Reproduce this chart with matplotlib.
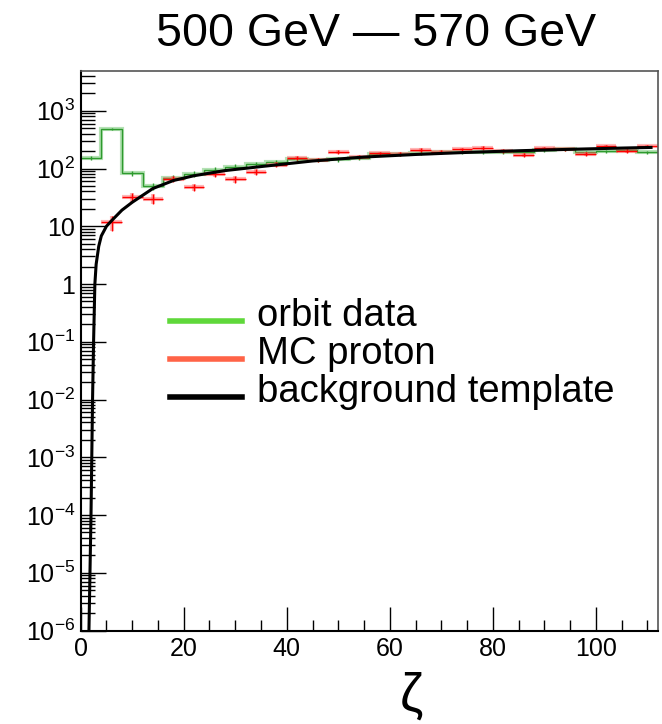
import numpy as np
import matplotlib
matplotlib.use("Agg")
import matplotlib.pyplot as plt
from matplotlib.lines import Line2D
from matplotlib.ticker import LogLocator, FuncFormatter, MultipleLocator

plt.rcParams['font.family'] = ['Liberation Sans', 'DejaVu Sans']

# bins of 4 in zeta, 0 .. 112
bin_edges = np.arange(0, 113, 4)
bin_centers = bin_edges[:-1] + 2

# orbit data (green histogram)
orbit_counts = [150, 482, 83, 49, 68, 80, 95, 107, 121, 131, 148, 140, 144, 150,
                180, 178, 187, 194, 190, 190, 190, 190, 208, 214, 190, 199, 208, 190]
# MC proton (red crosses), first bin empty
mc_counts = [np.nan, 11.8, 31.6, 30, 66, 47, 79, 65, 88, 117, 150, 141, 192, 160,
             182, 178, 208, 192, 214, 228, 203, 169, 223, 214, 178, 244, 203, 244]
# background template (black curve)
tmpl_x = [1.6, 1.8, 2.0, 2.15, 2.3, 2.5, 2.75, 3.0, 3.5, 4.0, 5.0, 6.0, 8.0, 10,
          14, 18, 22, 28, 35, 45, 55, 65, 75, 85, 95, 105, 111]
tmpl_y = [1e-6, 1e-5, 1e-4, 1e-3, 1e-2, 0.1, 1, 2.2, 4.5, 6.8, 10, 12.5, 19, 26,
          45, 62, 75, 92, 108, 135, 158, 175, 190, 203, 215, 226, 232]

title = "500 GeV \u2014 570 GeV"
legend_labels = ["orbit data", "MC proton", "background template"]
legend_colors = ['#5fd83a', '#ff6347', 'black']

W, H = 662, 724
fig = plt.figure(figsize=(W / 100, H / 100), dpi=100)
ax = fig.add_axes([80.7 / W, 1 - 630.5 / H, 577 / W, 559.5 / H])

orbit = np.array(orbit_counts, dtype=float)
mc = np.array(mc_counts, dtype=float)

# green histogram: soft wide layer + thin line
ax.stairs(orbit, bin_edges, color='#5cc05c', lw=3, alpha=0.45, baseline=None)
ax.stairs(orbit, bin_edges, color='#2e9a2e', lw=1.0, baseline=None)
ax.errorbar(bin_centers, orbit, yerr=np.sqrt(orbit), fmt='none',
            ecolor='#2e9a2e', elinewidth=1.0, capsize=0)

# red MC points with bin-width x errors
ax.errorbar(bin_centers, mc, xerr=2, yerr=np.sqrt(mc), fmt='none',
            ecolor='#ff6060', elinewidth=3, alpha=0.45, capsize=0)
ax.errorbar(bin_centers, mc, xerr=2, yerr=np.sqrt(mc), fmt='none',
            ecolor='#ff0000', elinewidth=1.0, capsize=0)

ax.plot(tmpl_x, tmpl_y, color='black', lw=2.2, solid_capstyle='butt')

ax.set_yscale('log')
ax.set_xlim(0, 112)
ax.set_ylim(1e-6, 4880)

ax.xaxis.set_major_locator(MultipleLocator(20))
ax.xaxis.set_minor_locator(MultipleLocator(5))
ax.yaxis.set_major_locator(LogLocator(base=10, numticks=20))
ax.yaxis.set_minor_locator(LogLocator(base=10, subs=np.arange(2, 10), numticks=20))


def ylab(v, pos):
    e = int(round(np.log10(v)))
    if e == 0:
        return "1"
    if e == 1:
        return "10"
    return r"$\mathregular{10^{%d}}$" % e


ax.yaxis.set_major_formatter(FuncFormatter(ylab))
ax.yaxis.set_minor_formatter(FuncFormatter(lambda v, p: ""))

ax.tick_params(which='both', direction='in', top=False, right=False,
               labelsize=18, width=1.0)
ax.tick_params(axis='x', which='major', length=17, pad=5)
ax.tick_params(axis='x', which='minor', length=8)
ax.tick_params(axis='y', which='major', length=18, pad=4)
ax.tick_params(axis='y', which='minor', length=10)

for s in ['left', 'bottom']:
    ax.spines[s].set_linewidth(1.5)
for s in ['top', 'right']:
    ax.spines[s].set_linewidth(1.2)
    ax.spines[s].set_color('#555555')

fig.text(376 / W, 1 - 34 / H, title, fontsize=33.5, ha='center', va='center')
fig.text(411 / W, 1 - 697 / H, "\u03b6", fontsize=38, ha='center', va='center')

# legend drawn by hand in figure pixel positions
leg_rows_y = [321, 359, 397]
for lab, col, yy in zip(legend_labels, legend_colors, leg_rows_y):
    fig.add_artist(Line2D([170 / W, 242 / W], [1 - yy / H, 1 - yy / H],
                          color=col, lw=4, transform=fig.transFigure))
    fig.text(257 / W, 1 - (yy + 5) / H, lab, fontsize=27.5, ha='left', va='baseline')

fig.savefig("out.png", dpi=100)
